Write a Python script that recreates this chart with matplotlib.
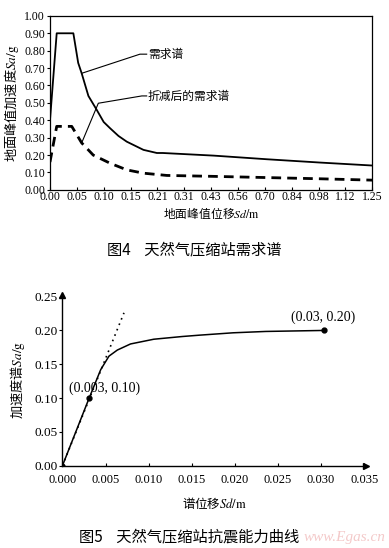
import matplotlib
matplotlib.use("Agg")
import matplotlib.pyplot as plt

plt.rcParams['font.family'] = ['Liberation Serif', 'Noto Sans CJK SC']
plt.rcParams['mathtext.fontset'] = 'stix'

CJK = ['Noto Sans CJK SC']

# ---- Figure 4 data (category axis: position index) ----
x_tick_labels = ["0.00", "0.05", "0.10", "0.15", "0.21", "0.31", "0.43",
                 "0.56", "0.70", "0.84", "0.98", "1.12", "1.25"]
y_ticks_top = [0.0, 0.1, 0.2, 0.3, 0.4, 0.5, 0.6, 0.7, 0.8, 0.9, 1.0]

demand_pos = [0, 0.25, 0.87, 1.05, 1.18, 1.43, 1.74, 2.0, 2.24, 2.55, 2.86,
              3.48, 3.98, 4.2, 6.09, 8.08, 10.06, 12.0]
demand_val = [0.40, 0.90, 0.90, 0.73, 0.67, 0.54, 0.46, 0.39, 0.354, 0.31,
              0.277, 0.23, 0.212, 0.212, 0.197, 0.176, 0.157, 0.14]

reduced_pos = [0, 0.25, 0.81, 1.18, 1.61, 2.24, 2.86, 3.48, 4.35, 6.0, 8.0,
               10.0, 12.0]
reduced_val = [0.16, 0.365, 0.365, 0.27, 0.20, 0.153, 0.115, 0.096, 0.083,
               0.078, 0.071, 0.064, 0.056]

# ---- Figure 5 data ----
cap_sd = [0.0, 0.0031, 0.00444, 0.0054, 0.00637, 0.0079, 0.0106, 0.0139,
          0.0159, 0.0198, 0.0236, 0.0304]
cap_sa = [0.0, 0.100, 0.142, 0.162, 0.171, 0.180, 0.187, 0.191, 0.193,
          0.1965, 0.1985, 0.200]
tangent_sd = [0.0, 0.00714]
tangent_sa = [0.0, 0.226]
key_sd = [0.0, 0.0031, 0.0304]
key_sa = [0.0, 0.100, 0.200]
x_ticks_bot = [0.000, 0.005, 0.010, 0.015, 0.020, 0.025, 0.030, 0.035]
y_ticks_bot = [0.00, 0.05, 0.10, 0.15, 0.20, 0.25]

fig = plt.figure(figsize=(3.89, 5.48), dpi=100)

# ================= Top chart =================
ax1 = fig.add_axes([0.1285, 0.6535, 0.8285, 0.3175])
ax1.plot(demand_pos, demand_val, color='black', lw=1.3)
ax1.plot(reduced_pos, reduced_val, color='black', lw=2.0, dashes=(3.5, 2.2))
ax1.set_xlim(0, 12)
ax1.set_ylim(0, 1.0)
ax1.set_xticks(range(len(x_tick_labels)))
ax1.set_xticklabels(x_tick_labels)
ax1.set_yticks(y_ticks_top)
ax1.set_yticklabels([f"{v:.2f}" for v in y_ticks_top])
ax1.tick_params(axis='x', direction='in', length=2.5, width=0.8,
                labelsize=8.5, pad=1)
ax1.tick_params(axis='y', direction='out', length=2.5, width=0.8,
                labelsize=8.5, pad=1)
for s in ax1.spines.values():
    s.set_linewidth(0.9)
ax1.set_xlabel(r"地面峰值位移$Sd/\mathrm{m}$", fontsize=8.5, labelpad=2,
               family=CJK)
ax1.set_ylabel(r"地面峰值加速度$Sa/\mathrm{g}$", fontsize=9.5, labelpad=2,
               family=CJK)

ax1.plot([1.18, 3.35, 3.6], [0.67, 0.78, 0.78], color='black', lw=0.8)
ax1.text(3.65, 0.78, "需求谱", fontsize=8.5, va='center', ha='left',
         family=CJK)
ax1.plot([1.18, 1.80, 3.42, 3.6], [0.27, 0.498, 0.54, 0.54],
         color='black', lw=0.8)
ax1.text(3.65, 0.54, "折减后的需求谱", fontsize=8.5, va='center', ha='left',
         family=CJK)

fig.text(0.5, 1 - 250 / 548, "图4    天然气压缩站需求谱", fontsize=11,
         ha='center', va='center', family=CJK, weight='medium')

# ================= Bottom chart =================
ax2 = fig.add_axes([0.1605, 0.1502, 0.78, 0.3110])
ax2.plot(cap_sd, cap_sa, color='black', lw=1.1)
ax2.plot(tangent_sd, tangent_sa, color='black', lw=1.2, ls=(0, (1, 2.5)))
ax2.plot(key_sd, key_sa, 'o', color='black', ms=3.5)
ax2.set_xlim(0, 0.0352)
ax2.set_ylim(0, 0.252)
ax2.spines['top'].set_visible(False)
ax2.spines['right'].set_visible(False)
ax2.spines['left'].set_linewidth(1.0)
ax2.spines['bottom'].set_linewidth(1.0)
ax2.set_xticks(x_ticks_bot)
ax2.set_xticklabels([f"{v:.3f}" for v in x_ticks_bot])
ax2.set_yticks(y_ticks_bot)
ax2.set_yticklabels([f"{v:.2f}" for v in y_ticks_bot])
ax2.tick_params(axis='x', direction='in', length=2.5, width=0.8,
                labelsize=9, pad=6)
ax2.tick_params(axis='y', direction='out', length=2.5, width=0.8,
                labelsize=9.5, pad=1)
# arrow heads
ax2.plot(1, 0, '>', color='black', ms=4, transform=ax2.transAxes, clip_on=False)
ax2.plot(0, 1, '^', color='black', ms=4, transform=ax2.transAxes, clip_on=False)
ax2.set_xlabel(r"谱位移$Sd/\mathrm{m}$", fontsize=9, labelpad=7, family=CJK)
ax2.set_ylabel(r"加速度谱$Sa/\mathrm{g}$", fontsize=9.5, labelpad=5,
               family=CJK)

ax2.text(0.0049, 0.115, "(0.003, 0.10)", fontsize=10, ha='center',
         va='center')
ax2.text(0.0302, 0.2196, "(0.03, 0.20)", fontsize=10, ha='center',
         va='center')

fig.text(0.487, 1 - 537 / 548, "图5    天然气压缩站抗震能力曲线", fontsize=11,
         ha='center', va='center', family=CJK, weight='medium')
fig.text(0.885, 1 - 537 / 548, "www.Egas.cn", fontsize=11, ha='center',
         va='center', color='#f0b8b8', style='italic', alpha=0.75)

fig.savefig("out.png", dpi=100)
